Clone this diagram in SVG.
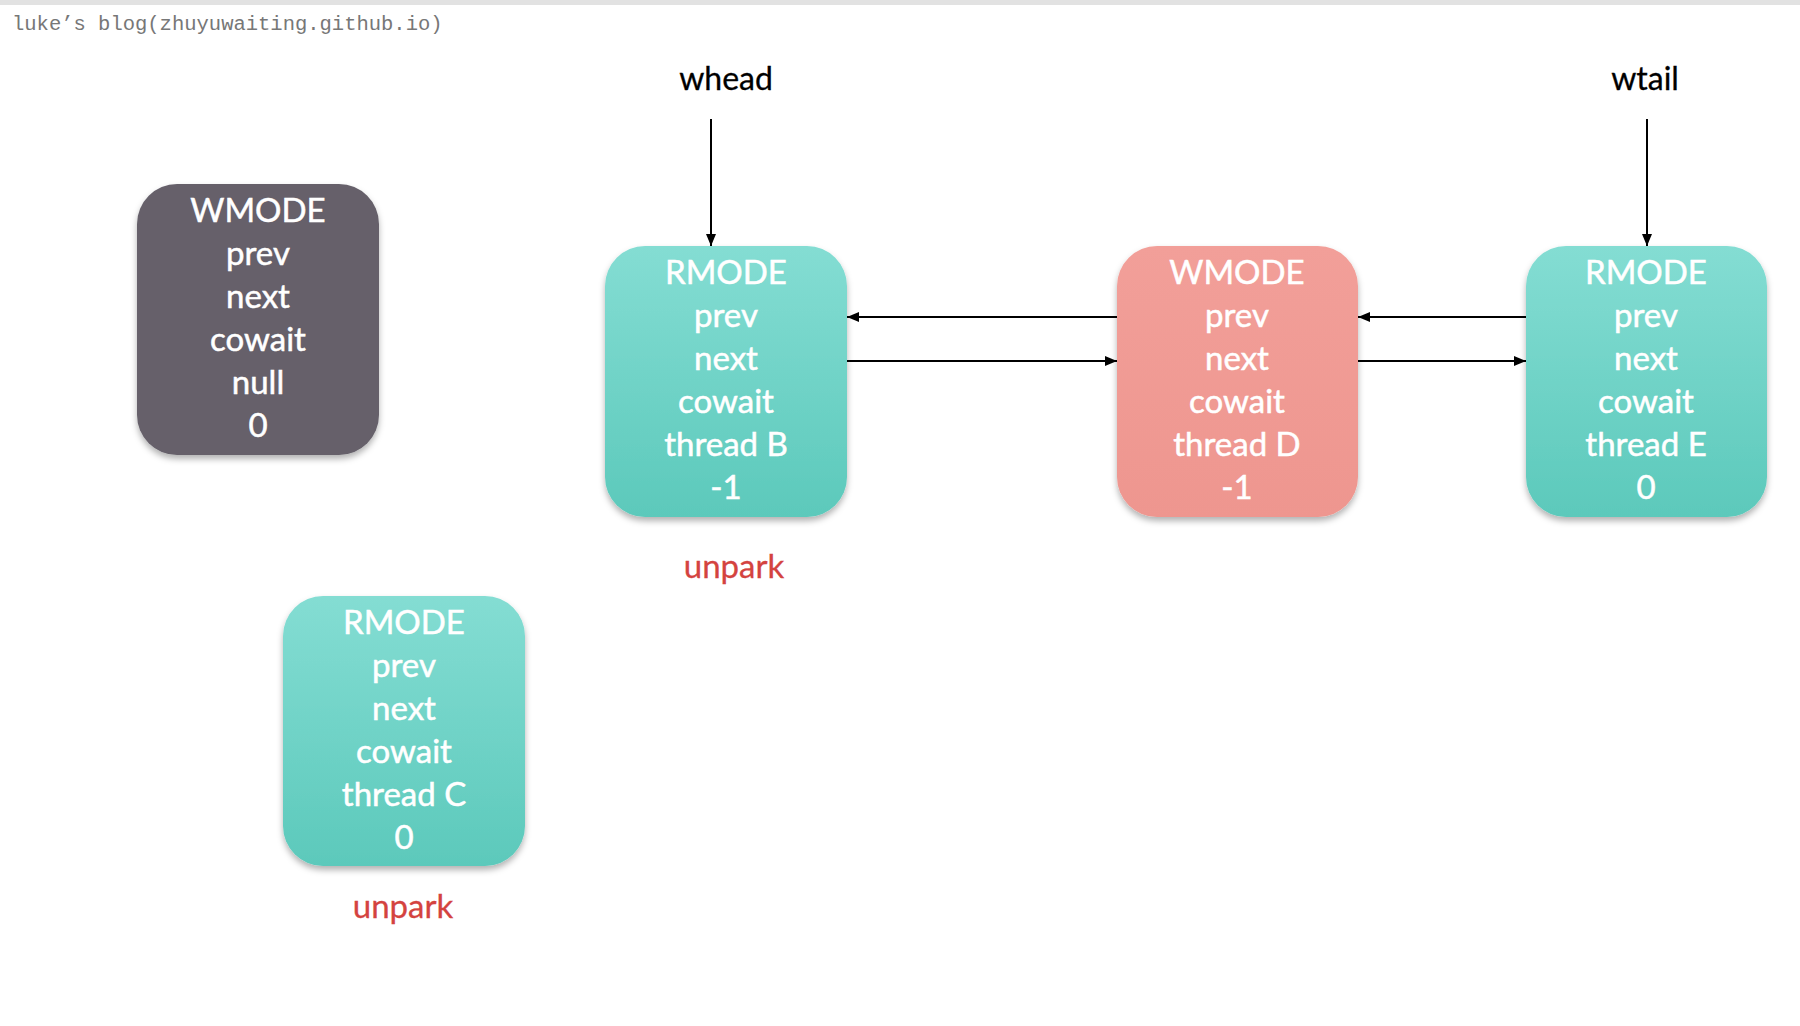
<svg xmlns="http://www.w3.org/2000/svg" width="1800" height="1026" viewBox="0 0 1800 1026">
<defs>
<linearGradient id="teal" x1="0" y1="0" x2="0" y2="1">
<stop offset="0" stop-color="#84ddd3"/>
<stop offset="1" stop-color="#5cc9bb"/>
</linearGradient>
<linearGradient id="red" x1="0" y1="0" x2="0" y2="1">
<stop offset="0" stop-color="#f29f99"/>
<stop offset="1" stop-color="#ee968f"/>
</linearGradient>
<filter id="sh" x="-10%" y="-10%" width="120%" height="125%">
<feDropShadow dx="0" dy="4" stdDeviation="3" flood-color="#000" flood-opacity="0.3"/>
</filter>
<marker id="ah" viewBox="0 0 12 10" refX="12" refY="5" markerWidth="12" markerHeight="10" markerUnits="userSpaceOnUse" orient="auto">
<path d="M0,0 L12,5 L0,10 Z" fill="#000"/>
</marker>
</defs>
<style>
.box{filter:url(#sh)}
.t{font-family:Lato,"Open Sans","DejaVu Sans",sans-serif;font-size:33px;fill:#fff;stroke:#fff;stroke-width:0.5px;text-anchor:middle}
.lbl{font-family:Lato,"Open Sans","DejaVu Sans",sans-serif;font-size:32px;fill:#000;stroke:#000;stroke-width:0.3px;text-anchor:middle}
.up{font-family:Lato,"Open Sans","DejaVu Sans",sans-serif;font-size:33px;fill:#d4433f;stroke:#d4433f;stroke-width:0.3px;text-anchor:middle}
.c{stroke:#000;stroke-width:2;fill:none;marker-end:url(#ah)}
</style>
<rect x="0" y="0" width="1800" height="1026" fill="#fff"/>
<rect x="0" y="0" width="1800" height="5" fill="#e2e2e2"/>
<text x="12" y="30" font-family="'Liberation Mono','DejaVu Sans Mono',monospace" font-size="20.5" fill="#777">luke’s blog(zhuyuwaiting.github.io)</text>

<text class="lbl" x="726" y="90">whead</text>
<text class="lbl" x="1645" y="90">wtail</text>

<g id="nodeA">
<rect class="box" x="137" y="184" width="242" height="271" rx="40" fill="#66616b"/>
<text class="t" x="258" y="222">WMODE</text>
<text class="t" x="258" y="265">prev</text>
<text class="t" x="258" y="308">next</text>
<text class="t" x="258" y="351">cowait</text>
<text class="t" x="258" y="394">null</text>
<text class="t" x="258" y="437">0</text>
</g>

<g id="nodeB">
<rect class="box" x="605" y="246" width="242" height="271" rx="40" fill="url(#teal)"/>
<text class="t" x="726" y="284">RMODE</text>
<text class="t" x="726" y="327">prev</text>
<text class="t" x="726" y="370">next</text>
<text class="t" x="726" y="413">cowait</text>
<text class="t" x="726" y="456">thread B</text>
<text class="t" x="726" y="499">-1</text>
</g>

<g id="nodeD">
<rect class="box" x="1117" y="246" width="241" height="271" rx="40" fill="url(#red)"/>
<text class="t" x="1237" y="284">WMODE</text>
<text class="t" x="1237" y="327">prev</text>
<text class="t" x="1237" y="370">next</text>
<text class="t" x="1237" y="413">cowait</text>
<text class="t" x="1237" y="456">thread D</text>
<text class="t" x="1237" y="499">-1</text>
</g>

<g id="nodeE">
<rect class="box" x="1526" y="246" width="241" height="271" rx="40" fill="url(#teal)"/>
<text class="t" x="1646" y="284">RMODE</text>
<text class="t" x="1646" y="327">prev</text>
<text class="t" x="1646" y="370">next</text>
<text class="t" x="1646" y="413">cowait</text>
<text class="t" x="1646" y="456">thread E</text>
<text class="t" x="1646" y="499">0</text>
</g>

<g id="nodeC">
<rect class="box" x="283" y="596" width="242" height="270" rx="40" fill="url(#teal)"/>
<text class="t" x="404" y="634">RMODE</text>
<text class="t" x="404" y="677">prev</text>
<text class="t" x="404" y="720">next</text>
<text class="t" x="404" y="763">cowait</text>
<text class="t" x="404" y="806">thread C</text>
<text class="t" x="404" y="849">0</text>
</g>

<text class="up" x="734" y="578">unpark</text>
<text class="up" x="403" y="918">unpark</text>

<g id="connectors">
<line class="c" x1="711" y1="119" x2="711" y2="246"/>
<line class="c" x1="1647" y1="119" x2="1647" y2="246"/>
<line class="c" x1="1117" y1="317" x2="847" y2="317"/>
<line class="c" x1="847" y1="361" x2="1117" y2="361"/>
<line class="c" x1="1526" y1="317" x2="1358" y2="317"/>
<line class="c" x1="1358" y1="361" x2="1526" y2="361"/>
</g>
</svg>
